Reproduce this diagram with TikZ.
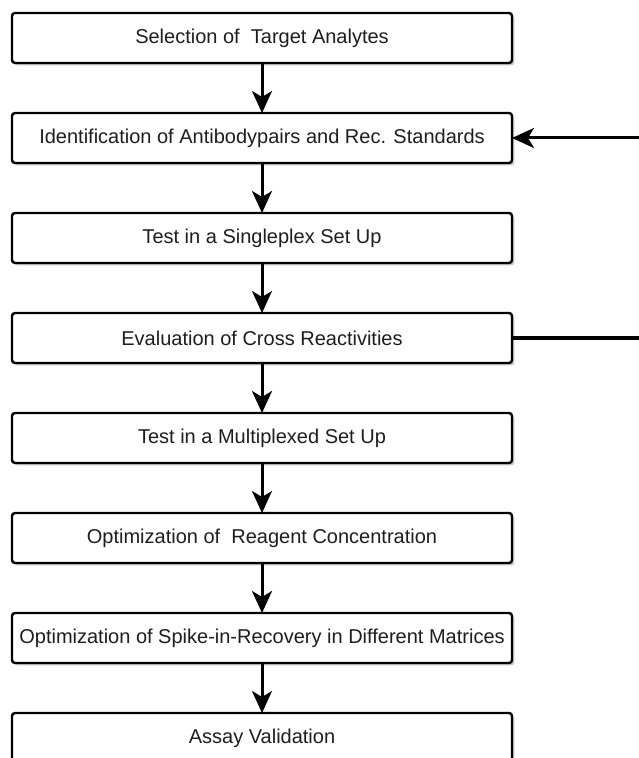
\documentclass[tikz,border=0pt]{standalone}
\usepackage{fontspec}
\setmainfont{Liberation Sans}
\usepackage{tikz}
\usetikzlibrary{arrows.meta,positioning,shadows}
\definecolor{stepgray}{RGB}{30,30,30}

\begin{document}
\begin{tikzpicture}[x=0.5pt,y=-0.5pt,
  stepbox/.style={draw=black, line width=1.2pt, fill=white, rounded corners=1.5pt,
    minimum width=250pt, minimum height=25pt, inner sep=0pt, outer sep=0pt,
    font=\fontsize{10}{12}\selectfont, text=stepgray,
    drop shadow={shadow xshift=1.2pt, shadow yshift=-1.2pt, fill=black, opacity=0.22}},
  flow/.style={-{Stealth[length=11pt, width=10pt, inset=3pt]}, line width=1.5pt},
  link/.style={line width=1.5pt}]
\useasboundingbox (0,0) rectangle (638,758);
% Steps
\node[stepbox] (sel) at (262,38) {Selection of~ Target Analytes};
\node[stepbox, below=25pt of sel] (ident) {Identification of Antibodypairs and Rec. Standards};
\node[stepbox, below=25pt of ident] (single) {Test in a Singleplex Set Up};
\node[stepbox, below=25pt of single] (cross) {Evaluation of Cross Reactivities};
\node[stepbox, below=25pt of cross] (multi) {Test in a Multiplexed Set Up};
\node[stepbox, below=25pt of multi] (reag) {Optimization of~ Reagent Concentration};
\node[stepbox, below=25pt of reag] (spike) {Optimization of Spike-in-Recovery in Different Matrices};
\node[stepbox, below=25pt of spike] (valid) {Assay Validation};
% Arrows down
\draw[flow] (sel) -- (ident);
\draw[flow] (ident) -- (single);
\draw[flow] (single) -- (cross);
\draw[flow] (cross) -- (multi);
\draw[flow] (multi) -- (reag);
\draw[flow] (reag) -- (spike);
\draw[flow] (spike) -- (valid);
% Feedback from the right
\coordinate (back) at (642,0);
\draw[flow] (ident.east -| back) -- (ident.east);
\draw[link] (cross.east) -- (cross.east -| back);
\end{tikzpicture}
\end{document}
